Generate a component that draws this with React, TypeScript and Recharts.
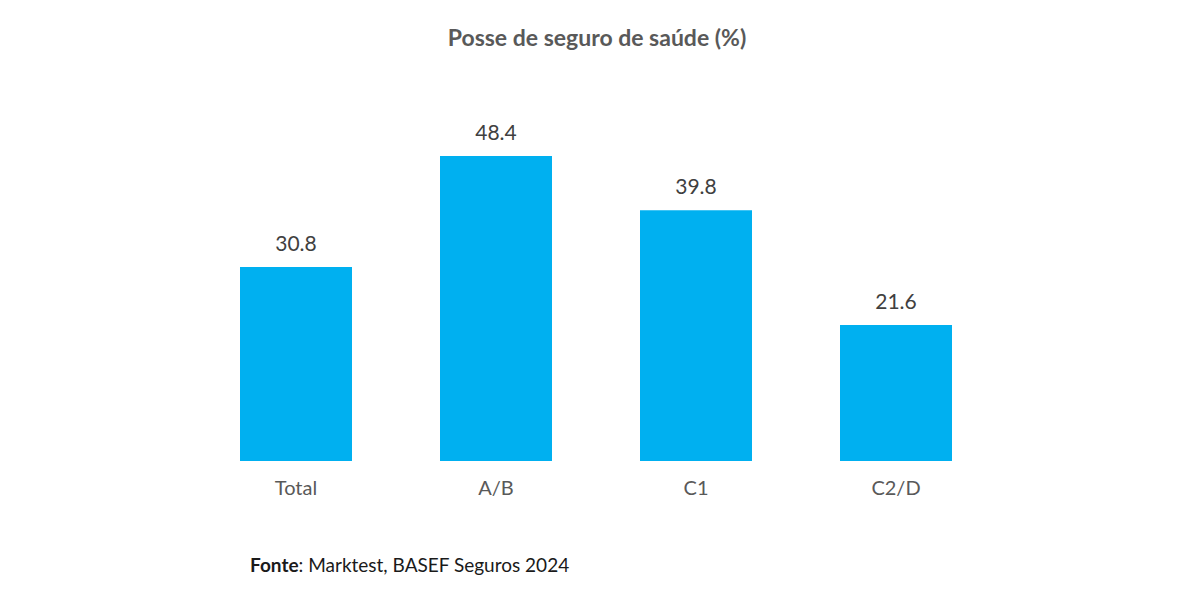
import { BarChart, Bar, XAxis, YAxis, LabelList } from 'recharts';

// Marktest, BASEF Seguros 2024 - posse de seguro de saúde por classe social
const categories = ['Total', 'A/B', 'C1', 'C2/D'];
const values = [30.8, 48.4, 39.8, 21.6];

const data = categories.map((name, i) => ({ name, value: values[i] }));

const BAR_COLOR = '#00B0F0';
const FONT = 'Lato, "Open Sans", "Noto Sans", sans-serif';

export default function App() {
  return (
    <div
      style={{
        position: 'fixed',
        top: 0,
        left: 0,
        width: 1200,
        height: 600,
        background: '#ffffff',
        fontFamily: FONT,
      }}
    >
      <div
        style={{
          position: 'absolute',
          top: 23,
          left: 0,
          width: 1194,
          textAlign: 'center',
          fontSize: 23,
          fontWeight: 700,
          color: '#595959',
        }}
      >
        Posse de seguro de saúde (%)
      </div>

      <BarChart
        width={1200}
        height={600}
        data={data}
        margin={{ top: 83, right: 204, bottom: 109, left: 196 }}
        barCategoryGap="22%"
      >
        <XAxis
          dataKey="name"
          axisLine={false}
          tickLine={false}
          tickMargin={14}
          tick={{ fill: '#595959', fontSize: 20, fontFamily: FONT }}
        />
        <YAxis hide domain={[0, 60]} />
        <Bar dataKey="value" fill={BAR_COLOR} isAnimationActive={false}>
          <LabelList
            dataKey="value"
            position="top"
            offset={16}
            formatter={(v: number) => v.toFixed(1)}
            style={{ fill: '#404040', fontSize: 21, fontFamily: FONT }}
          />
        </Bar>
      </BarChart>

      <div
        style={{
          position: 'absolute',
          top: 553,
          left: 250,
          fontSize: 19,
          color: '#1a1a1a',
        }}
      >
        <b>Fonte</b>: Marktest, BASEF Seguros 2024
      </div>
    </div>
  );
}
